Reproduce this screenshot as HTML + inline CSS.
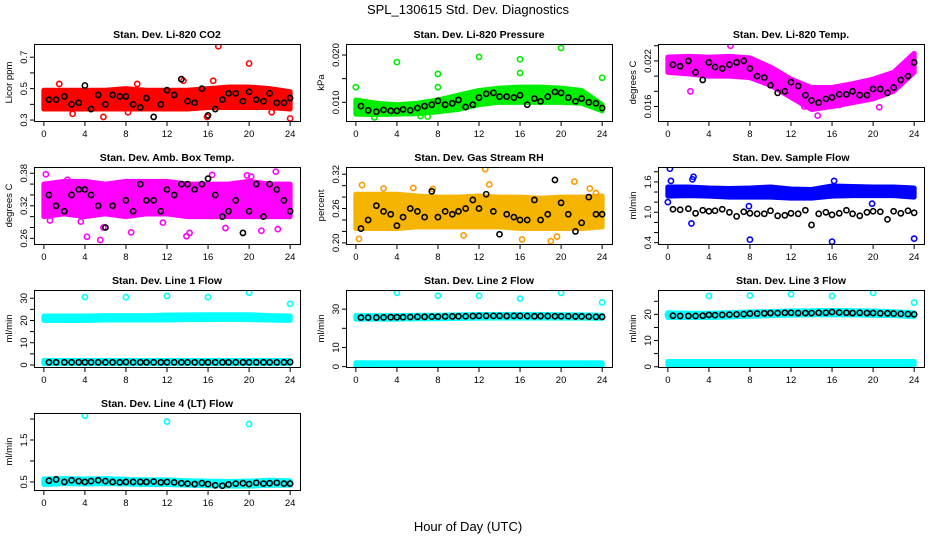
<!DOCTYPE html>
<html><head><meta charset="utf-8"><style>
html,body{margin:0;padding:0;background:#fff;}
svg{display:block;font-family:"Liberation Sans",sans-serif;}
</style></head><body>
<svg id="chart" width="936" height="540" viewBox="0 0 936 540">
<rect width="936" height="540" fill="#fff"/>
<text x="468" y="14" font-size="13" text-anchor="middle">SPL_130615  Std. Dev. Diagnostics</text>
<text x="468" y="531" font-size="13" text-anchor="middle">Hour of Day (UTC)</text>
</svg>
<script>
const bandHours=[0,2,4,6,8,10,12,14,16,18,20,22,24];
const blkHours=[0.5,1.2,2,2.7,3.4,4,4.6,5.3,6,6.7,7.4,8,8.7,9.4,10,10.7,11.4,12,12.7,13.4,14,14.7,15.4,16,16.7,17.4,18,18.7,19.4,20,20.7,21.4,22,22.7,23.4,24];
const xTicks=[0,4,8,12,16,20,24];

const co2Lo=[0.37,0.37,0.37,0.37,0.37,0.37,0.37,0.37,0.38,0.38,0.38,0.38,0.37];
const co2Hi=[0.49,0.49,0.49,0.49,0.50,0.49,0.49,0.49,0.50,0.51,0.51,0.50,0.48];
const co2OutX=[17,20,13.6,16.5,1.5,5.8,24,8.2,2.8,22.2,15.9,9.1];
const co2OutY=[0.77,0.66,0.55,0.55,0.53,0.32,0.31,0.35,0.34,0.35,0.32,0.53];
const co2Blk=[0.43,0.43,0.45,0.40,0.41,0.52,0.37,0.46,0.40,0.46,0.45,0.45,0.40,0.38,0.44,0.32,0.40,0.49,0.46,0.56,0.42,0.41,0.50,0.33,0.37,0.43,0.47,0.47,0.42,0.48,0.43,0.42,0.47,0.41,0.41,0.44];

const presLo=[0.0075,0.0074,0.0075,0.0076,0.0080,0.0085,0.0095,0.0100,0.0100,0.0100,0.0100,0.0098,0.0082];
const presHi=[0.0105,0.0098,0.0095,0.0098,0.0105,0.0115,0.0125,0.0130,0.0132,0.0132,0.0130,0.0125,0.0095];
const presOutX=[0,4,8,8,12,16,16,20,24,1.8,6.3,7];
const presOutY=[0.0132,0.0185,0.0160,0.0132,0.0196,0.0191,0.0162,0.0215,0.0152,0.0068,0.0071,0.0070];
const presBlk=[0.0092,0.0083,0.0080,0.0084,0.0082,0.0082,0.0085,0.0083,0.0088,0.0092,0.0095,0.0103,0.0095,0.0098,0.0105,0.0090,0.0095,0.0110,0.0118,0.0120,0.0112,0.0112,0.0110,0.0115,0.0095,0.0108,0.0102,0.0112,0.0122,0.0120,0.0110,0.0102,0.0108,0.0100,0.0098,0.0088];

const tempLo=[0.0205,0.0203,0.0200,0.0200,0.0198,0.0188,0.0172,0.0156,0.0160,0.0165,0.0170,0.0180,0.0205];
const tempHi=[0.0225,0.0226,0.0225,0.0226,0.0224,0.0212,0.0196,0.0185,0.0185,0.0190,0.0196,0.0205,0.0230];
const tempOutX=[6.1,2.2,14.6,20.6,13.3,16.7,11.8];
const tempOutY=[0.0240,0.0180,0.0148,0.0159,0.0160,0.0162,0.0175];
const tempBlk=[0.0215,0.0213,0.0220,0.0205,0.0195,0.0218,0.0212,0.0210,0.0215,0.0218,0.0220,0.0210,0.0200,0.0198,0.0188,0.0178,0.0180,0.0192,0.0187,0.0175,0.0168,0.0165,0.0170,0.0172,0.0176,0.0176,0.0180,0.0175,0.0175,0.0183,0.0183,0.0178,0.0185,0.0195,0.0200,0.0218];

const ambLo=[0.300,0.305,0.300,0.305,0.300,0.305,0.305,0.300,0.300,0.300,0.300,0.300,0.300];
const ambHi=[0.360,0.365,0.365,0.360,0.365,0.365,0.365,0.360,0.360,0.360,0.365,0.360,0.360];
const ambOutX=[0.2,0.6,3.6,4.2,5.5,5.8,8.5,13.9,16.4,17.7,19.8,21.2,22.6,22.8,2.3,11.6,14.2,20.2];
const ambOutY=[0.378,0.293,0.291,0.263,0.257,0.280,0.271,0.264,0.377,0.279,0.376,0.274,0.383,0.277,0.368,0.289,0.270,0.374];
const ambBlk=[0.34,0.32,0.31,0.34,0.35,0.35,0.34,0.32,0.28,0.32,0.40,0.33,0.31,0.36,0.33,0.33,0.31,0.35,0.34,0.36,0.36,0.35,0.36,0.37,0.34,0.30,0.31,0.33,0.27,0.31,0.36,0.30,0.36,0.35,0.33,0.31];

const rhLo=[0.225,0.225,0.225,0.228,0.228,0.228,0.228,0.228,0.225,0.225,0.225,0.225,0.228];
const rhHi=[0.285,0.285,0.285,0.282,0.280,0.280,0.282,0.280,0.280,0.278,0.280,0.280,0.282];
const rhOutX=[0.3,0.6,2.7,5.6,7.5,12.6,13,16.2,19,19.6,21.3,22.8,23.4,10.5];
const rhOutY=[0.207,0.301,0.295,0.296,0.294,0.329,0.302,0.206,0.203,0.211,0.307,0.295,0.287,0.213];
const rhBlk=[0.225,0.24,0.265,0.255,0.25,0.23,0.245,0.26,0.255,0.245,0.29,0.245,0.255,0.25,0.255,0.26,0.275,0.26,0.285,0.255,0.215,0.25,0.245,0.24,0.24,0.275,0.24,0.25,0.31,0.27,0.25,0.22,0.235,0.28,0.25,0.25];

const flowLo=[1.32,1.33,1.32,1.30,1.30,1.30,1.28,1.28,1.32,1.33,1.33,1.33,1.30];
const flowHi=[1.50,1.50,1.48,1.47,1.48,1.50,1.46,1.45,1.52,1.51,1.50,1.50,1.48];
const flowOutX=[0,0.2,0.3,2.3,2.5,2.4,8,16,16.2,24,7.9,19.9];
const flowOutY=[1.20,1.86,1.62,0.78,1.70,1.65,0.46,0.42,1.62,0.48,1.12,1.17];
const flowBlk=[1.06,1.05,1.07,0.98,1.04,1.02,1.03,1.06,1.00,0.92,1.01,0.98,0.97,0.97,1.03,0.93,0.94,0.98,0.97,1.04,0.75,0.97,1.00,0.95,0.98,1.04,0.97,0.93,1.00,1.02,1.01,0.86,1.02,0.98,1.03,0.99];

const l1Lo=[20.0,20.0,20.0,20.2,20.2,20.2,20.2,20.4,20.4,20.5,20.4,20.2,20.0];
const l1Hi=[22.0,22.0,22.0,22.2,22.2,22.2,22.4,22.5,22.6,22.6,22.6,22.2,22.0];
const l1LowLo=[0.6,0.6,0.6,0.6,0.6,0.6,0.6,0.6,0.6,0.6,0.6,0.6,0.6];
const l1LowHi=[2.0,2.0,2.0,2.0,2.0,2.0,2.0,2.0,2.0,2.0,2.0,2.0,2.0];
const l1OutX=[4,8,12,16,20,24];
const l1OutY=[30.5,30.5,31,30.5,32.5,27.5];
const l1Blk=[1.2,1.2,1.2,1.2,1.2,1.2,1.2,1.2,1.2,1.2,1.2,1.3,1.2,1.2,1.2,1.2,1.2,1.2,1.2,1.2,1.2,1.2,1.2,1.2,1.2,1.2,1.2,1.2,1.2,1.2,1.2,1.2,1.2,1.2,1.2,1.3];

const l2Lo=[24.8,24.8,24.8,25.0,25.0,25.2,25.3,25.4,25.4,25.4,25.3,25.3,25.2];
const l2Hi=[26.6,26.6,26.6,26.8,26.8,27.0,27.2,27.2,27.3,27.2,27.1,27.0,26.8];
const l2LowLo=[0.5,0.5,0.5,0.5,0.5,0.5,0.5,0.5,0.5,0.5,0.5,0.5,0.5];
const l2LowHi=[2.0,2.0,2.0,2.0,2.0,2.0,2.0,2.0,2.0,2.0,2.0,2.0,2.0];
const l2OutX=[4,8,12,16,20,24];
const l2OutY=[38.5,37,37,35.5,38.5,33.5];
const l2Blk=[25.6,25.6,25.6,25.7,25.8,25.8,25.8,25.9,26.0,26.0,26.1,26.1,26.2,26.2,26.3,26.3,26.4,26.5,26.5,26.5,26.5,26.4,26.5,26.5,26.4,26.3,26.4,26.4,26.3,26.3,26.3,26.2,26.2,26.1,26.0,26.0];

const l3Lo=[18.8,18.8,18.8,19.0,19.3,19.5,19.7,19.8,19.8,19.8,19.6,19.5,19.2];
const l3Hi=[20.6,20.4,20.4,20.6,20.9,21.1,21.3,21.4,21.5,21.4,21.3,21.0,20.6];
const l3LowLo=[0.6,0.6,0.6,0.6,0.6,0.6,0.6,0.6,0.6,0.6,0.6,0.6,0.6];
const l3LowHi=[2.0,2.0,2.0,2.0,2.0,2.0,2.0,2.0,2.0,2.0,2.0,2.0,2.0];
const l3OutX=[0,4,8,12,16,20,24];
const l3OutY=[19.8,27,27.2,27.7,27,28.2,24.5];
const l3Blk=[19.5,19.4,19.4,19.4,19.5,19.8,19.7,19.8,19.9,20.0,20.1,20.3,20.3,20.4,20.5,20.5,20.6,20.6,20.5,20.5,20.5,20.6,20.6,20.9,20.7,20.6,20.5,20.6,20.5,20.5,20.4,20.4,20.3,20.2,20.1,20.0];

const l4Lo=[0.44,0.46,0.45,0.46,0.45,0.44,0.44,0.42,0.41,0.40,0.40,0.42,0.42];
const l4Hi=[0.57,0.58,0.57,0.58,0.56,0.55,0.55,0.53,0.52,0.51,0.52,0.54,0.53];
const l4OutX=[4,12,20];
const l4OutY=[2.08,1.94,1.88];
const l4Blk=[0.53,0.56,0.50,0.54,0.52,0.50,0.52,0.54,0.52,0.50,0.49,0.50,0.50,0.50,0.50,0.51,0.49,0.50,0.49,0.47,0.46,0.45,0.47,0.45,0.42,0.41,0.44,0.46,0.47,0.45,0.48,0.46,0.47,0.48,0.46,0.46];

const co2Ticks=[0.3,0.4,0.5,0.6,0.7], co2Labels=["0.3","","0.5","","0.7"];
const presTicks=[0.010,0.015,0.020], presLabels=["0.010","","0.020"];
const tempTicks=[0.016,0.018,0.020,0.022,0.024], tempLabels=["0.016","","","0.022",""];
const ambTicks=[0.26,0.28,0.30,0.32,0.34,0.36,0.38], ambLabels=["0.26","","","0.32","","","0.38"];
const rhTicks=[0.20,0.22,0.24,0.26,0.28,0.30,0.32], rhLabels=["0.20","","","0.26","","","0.32"];
const flowTicks=[0.4,0.6,0.8,1.0,1.2,1.4,1.6,1.8], flowLabels=["0.4","","","1.0","","","1.6",""];
const l1Ticks=[0,5,10,15,20,25,30], l1Labels=["0","","10","","20","","30"];
const l2Ticks=[0,10,20,30], l2Labels=["0","10","","30"];
const l3Ticks=[0,5,10,15,20,25], l3Labels=["0","","10","","20",""];
const l4Ticks=[0.5,1.0,1.5,2.0], l4Labels=["0.5","","1.5",""];

const NS="http://www.w3.org/2000/svg";
const svg=document.getElementById('chart');
function mk(tag,attrs,parent){const e=document.createElementNS(NS,tag);for(const k in attrs)e.setAttribute(k,attrs[k]);(parent||svg).appendChild(e);return e;}

const colL=[34,346,658], rowT=[44,167,290,413], BW=266, BH=77;
const panels=[
 {key:"co2",title:"Stan. Dev. Li-820 CO2",ylab:"Licor ppm",col:0,row:0,ylim:[0.294,0.784],ticks:co2Ticks,labels:co2Labels,color:"#ff0000",lo:co2Lo,hi:co2Hi,outX:co2OutX,outY:co2OutY,blk:co2Blk},
 {key:"pressure",title:"Stan. Dev. Li-820 Pressure",ylab:"kPa",col:1,row:0,ylim:[0.00605,0.02233],ticks:presTicks,labels:presLabels,color:"#00ee00",lo:presLo,hi:presHi,outX:presOutX,outY:presOutY,blk:presBlk},
 {key:"temp",title:"Stan. Dev. Li-820 Temp.",ylab:"degrees C",col:2,row:0,ylim:[0.01409,0.02423],ticks:tempTicks,labels:tempLabels,color:"#ff00ff",lo:tempLo,hi:tempHi,outX:tempOutX,outY:tempOutY,blk:tempBlk},
 {key:"amb-box-temp",title:"Stan. Dev. Amb. Box Temp.",ylab:"degrees C",col:0,row:1,ylim:[0.2496,0.3915],ticks:ambTicks,labels:ambLabels,color:"#ff00ff",lo:ambLo,hi:ambHi,outX:ambOutX,outY:ambOutY,blk:ambBlk},
 {key:"gas-rh",title:"Stan. Dev. Gas Stream RH",ylab:"percent",col:1,row:1,ylim:[0.198,0.3326],ticks:rhTicks,labels:rhLabels,color:"#f5b400",outColor:"#ff9900",lo:rhLo,hi:rhHi,outX:rhOutX,outY:rhOutY,blk:rhBlk},
 {key:"sample-flow",title:"Stan. Dev. Sample Flow",ylab:"ml/min",col:2,row:1,ylim:[0.374,1.894],ticks:flowTicks,labels:flowLabels,color:"#0000ff",lo:flowLo,hi:flowHi,outX:flowOutX,outY:flowOutY,blk:flowBlk},
 {key:"line1-flow",title:"Stan. Dev. Line 1 Flow",ylab:"ml/min",col:0,row:2,ylim:[-0.9,33.7],ticks:l1Ticks,labels:l1Labels,color:"#00ffff",lo:l1Lo,hi:l1Hi,lo2:l1LowLo,hi2:l1LowHi,outX:l1OutX,outY:l1OutY,blk:l1Blk},
 {key:"line2-flow",title:"Stan. Dev. Line 2 Flow",ylab:"ml/min",col:1,row:2,ylim:[-0.2,40],ticks:l2Ticks,labels:l2Labels,color:"#00ffff",lo:l2Lo,hi:l2Hi,lo2:l2LowLo,hi2:l2LowHi,outX:l2OutX,outY:l2OutY,blk:l2Blk},
 {key:"line3-flow",title:"Stan. Dev. Line 3 Flow",ylab:"ml/min",col:2,row:2,ylim:[-0.1,29.3],ticks:l3Ticks,labels:l3Labels,color:"#00ffff",lo:l3Lo,hi:l3Hi,lo2:l3LowLo,hi2:l3LowHi,outX:l3OutX,outY:l3OutY,blk:l3Blk},
 {key:"line4-flow",title:"Stan. Dev. Line 4 (LT) Flow",ylab:"ml/min",col:0,row:3,ylim:[0.308,2.144],ticks:l4Ticks,labels:l4Labels,color:"#00ffff",lo:l4Lo,hi:l4Hi,outX:l4OutX,outY:l4OutY,blk:l4Blk}
];

panels.forEach(p=>{
 const L=colL[p.col], T=rowT[p.row];
 const g=mk('g',{});
 
 
 const xs=h=>L+(h+0.96)/25.92*BW;
 const ys=v=>T+BH-(v-p.ylim[0])/(p.ylim[1]-p.ylim[0])*BH;
 const clip=mk('clipPath',{id:'clip-'+p.key},g);
 mk('rect',{x:L,y:T,width:BW,height:BH},clip);
 const plot=mk('g',{'clip-path':'url(#clip-'+p.key+')'},g);
 
 
 function band(lo,hi,name){
  let pts=bandHours.map((h,i)=>xs(h)+','+ys(hi[i]));
  pts=pts.concat(bandHours.map((h,i)=>[h,i]).reverse().map(([h,i])=>xs(h)+','+ys(lo[i])));
  const b=mk('polygon',{points:pts.join(' '),fill:p.color,stroke:p.color,'stroke-width':5,'stroke-linejoin':'round'},plot);
  
  
 }
 band(p.lo,p.hi,'band-'+p.key);
 if(p.lo2) band(p.lo2,p.hi2,'low-band-'+p.key);
 p.outX.forEach((h,i)=>{
  const c=mk('circle',{cx:xs(h),cy:ys(p.outY[i]),r:2.6,fill:'none',stroke:p.outColor||p.color,'stroke-width':1.6},plot);
  
  
 });
 p.blk.forEach((v,i)=>{
  const c=mk('circle',{cx:xs(blkHours[i]),cy:ys(v),r:2.6,fill:'none',stroke:'#000','stroke-width':1.6},plot);
  
  
 });
 const box=mk('rect',{x:L+0.5,y:T+0.5,width:BW,height:BH,fill:'none',stroke:'#000','stroke-width':1},g);
 
 
 const t=mk('text',{x:L+BW/2,y:T-6,'font-size':10.5,'font-weight':'bold','text-anchor':'middle'},g);
 t.textContent=p.title;
 
 
 const yl=mk('text',{x:0,y:0,'font-size':9.5,'text-anchor':'middle',transform:`translate(${L-22},${T+BH/2}) rotate(-90)`},g);
 yl.textContent=p.ylab;
 
 
 xTicks.forEach(h=>{
  const x=xs(h);
  const tk=mk('line',{x1:x,x2:x,y1:T+BH+1,y2:T+BH+5,stroke:'#000'},g);
  
  
  const lb=mk('text',{x:x,y:T+BH+16,'font-size':9.5,'text-anchor':'middle'},g);
  lb.textContent=String(h);
  
  
 });
 p.ticks.forEach((v,i)=>{
  const y=ys(v);
  const tk=mk('line',{x1:L-4,x2:L,y1:y,y2:y,stroke:'#000'},g);
  
  
  if(p.labels[i]){
   const lb=mk('text',{x:0,y:0,'font-size':9.5,'text-anchor':'middle',transform:`translate(${L-7},${y}) rotate(-90)`},g);
   lb.textContent=p.labels[i];
   
   
  }
 });
});
</script>
</body></html>
